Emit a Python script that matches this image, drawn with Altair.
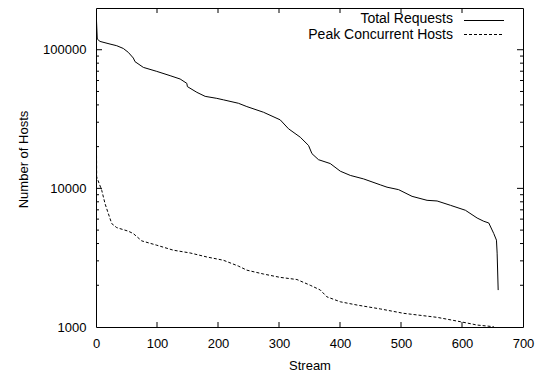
import altair as alt
import pandas as pd

# Total Requests (solid)
total_stream = [0, 2.1, 6.6, 23, 34, 44.8, 53, 61.2, 64, 77.6, 99.6, 121.5, 137.9, 148.9, 149.8,
                165.3, 178.9, 198, 209, 233.5, 247.3, 274.6, 302, 315.6, 334.8, 348.4, 354, 364.8,
                384, 400.5, 416.9, 438.7, 466.1, 477.1, 496.1, 518.1, 542.7, 559.2, 581, 605.6,
                624.8, 635.7, 643.9, 652.1, 656.5, 657.6, 659.3]
total_hosts = [197000, 119400, 114800, 109900, 106900, 102100, 95700, 87100, 82000, 74600, 69800,
               65000, 61500, 57200, 54200, 49300, 46100, 44600, 43500, 41100, 38900, 35400, 31200,
               26900, 23400, 20400, 17800, 16100, 15100, 13300, 12400, 11700, 10600, 10200, 9790,
               8760, 8200, 8110, 7550, 6950, 6110, 5790, 5630, 4720, 4230, 3410, 1846]

# Peak Concurrent Hosts (dashed)
peak_stream = [0, 0.8, 1.1, 9.4, 14.8, 20.2, 25.8, 34, 53, 61.2, 75, 99.6, 126.9, 154.3, 181.7,
               208.9, 233.5, 247.3, 274.6, 302, 329.4, 351.2, 367.6, 378.6, 400.5, 427.9, 466.1,
               504.3, 559.2, 597.4, 624.8, 652.1]
peak_hosts = [39600, 20000, 12100, 9680, 7760, 6580, 5570, 5210, 4910, 4720, 4180, 3890, 3580,
              3420, 3200, 3030, 2750, 2570, 2410, 2280, 2200, 2000, 1850, 1650, 1520, 1440, 1350,
              1255, 1174, 1092, 1033, 1005]

x_ticks = [0, 100, 200, 300, 400, 500, 600, 700]
y_major = [1000, 10000, 100000]
y_minor = [2000, 3000, 4000, 5000, 6000, 7000, 8000, 9000,
           20000, 30000, 40000, 50000, 60000, 70000, 80000, 90000]

series_names = ["Total Requests", "Peak Concurrent Hosts"]

W, H = 427, 319
FONT = "Liberation Sans"

df_total = pd.DataFrame({"stream": total_stream, "hosts": total_hosts})
df_peak = pd.DataFrame({"stream": peak_stream, "hosts": peak_hosts})
df_xt = pd.DataFrame({"x": x_ticks[1:-1]})
df_ymaj = pd.DataFrame({"y": y_major[1:]})
df_ymin = pd.DataFrame({"y": y_minor})

xs = alt.Scale(domain=[0, 700], nice=False, zero=False)
ys = alt.Scale(type="log", domain=[1000, 200000], nice=False)

x_enc = alt.X("stream:Q", scale=xs, title="Stream",
              axis=alt.Axis(values=x_ticks, tickSize=0, labelPadding=10, domain=False, grid=False,
                            labelFlush=False, labelOverlap=False,
                            labelFontSize=13, titleFontSize=13, titleFontWeight="normal",
                            titlePadding=9, labelColor="black", titleColor="black"))
y_enc = alt.Y("hosts:Q", scale=ys, title="Number of Hosts",
              axis=alt.Axis(values=y_major, format="d", tickSize=0, labelPadding=10, domain=False,
                            labelFlush=False, labelOverlap=False,
                            grid=False, labelFontSize=13, titleFontSize=13, titleFontWeight="normal",
                            titlePadding=12, titleY=151, labelColor="black", titleColor="black"))

line_total = alt.Chart(df_total).mark_line(color="black", strokeWidth=1, clip=True).encode(
    x=x_enc, y=y_enc)
line_peak = alt.Chart(df_peak).mark_line(color="black", strokeWidth=1, strokeDash=[3, 2],
                                         clip=True).encode(
    x=alt.X("stream:Q", scale=xs), y=alt.Y("hosts:Q", scale=ys))

# inside ticks (gnuplot style, mirrored)
xt_bot = alt.Chart(df_xt).mark_rule(color="black").encode(
    x=alt.X("x:Q", scale=xs), y=alt.value(H), y2=alt.value(H - 5))
xt_top = alt.Chart(df_xt).mark_rule(color="black").encode(
    x=alt.X("x:Q", scale=xs), y=alt.value(0), y2=alt.value(5))
ymaj_l = alt.Chart(df_ymaj).mark_rule(color="black").encode(
    y=alt.Y("y:Q", scale=ys), x=alt.value(0), x2=alt.value(6))
ymaj_r = alt.Chart(df_ymaj).mark_rule(color="black").encode(
    y=alt.Y("y:Q", scale=ys), x=alt.value(W), x2=alt.value(W - 6))
ymin_l = alt.Chart(df_ymin).mark_rule(color="black").encode(
    y=alt.Y("y:Q", scale=ys), x=alt.value(0), x2=alt.value(3))
ymin_r = alt.Chart(df_ymin).mark_rule(color="black").encode(
    y=alt.Y("y:Q", scale=ys), x=alt.value(W), x2=alt.value(W - 3))

# legend (gnuplot style: label left, sample right)
leg1_t = alt.Chart(pd.DataFrame({"t": [series_names[0]]})).mark_text(
    align="right", baseline="middle", fontSize=14, font=FONT, color="black").encode(
    text="t:N", x=alt.value(357), y=alt.value(11))
leg2_t = alt.Chart(pd.DataFrame({"t": [series_names[1]]})).mark_text(
    align="right", baseline="middle", fontSize=14, font=FONT, color="black").encode(
    text="t:N", x=alt.value(357), y=alt.value(26.5))
leg1_l = alt.Chart(pd.DataFrame({"t": [series_names[0]]})).mark_rule(
    color="black", strokeWidth=1).encode(x=alt.value(368), x2=alt.value(408), y=alt.value(12.5))
leg2_l = alt.Chart(pd.DataFrame({"t": [series_names[1]]})).mark_rule(
    color="black", strokeWidth=1, strokeDash=[3, 2]).encode(
    x=alt.value(368), x2=alt.value(408), y=alt.value(26.5))

chart = alt.layer(line_total, line_peak, xt_bot, xt_top, ymaj_l, ymaj_r, ymin_l, ymin_r,
                  leg1_t, leg2_t, leg1_l, leg2_l).properties(
    width=W, height=H,
    autosize=alt.AutoSizeParams(type="none"),
    padding={"left": 96, "top": 8, "right": 12, "bottom": 48},
).configure(font=FONT, background="white").configure_view(
    stroke="black", strokeWidth=1
).configure_axis(labelFont=FONT, titleFont=FONT)

chart.save("out.html", embed_options={"renderer": "svg", "actions": False})
